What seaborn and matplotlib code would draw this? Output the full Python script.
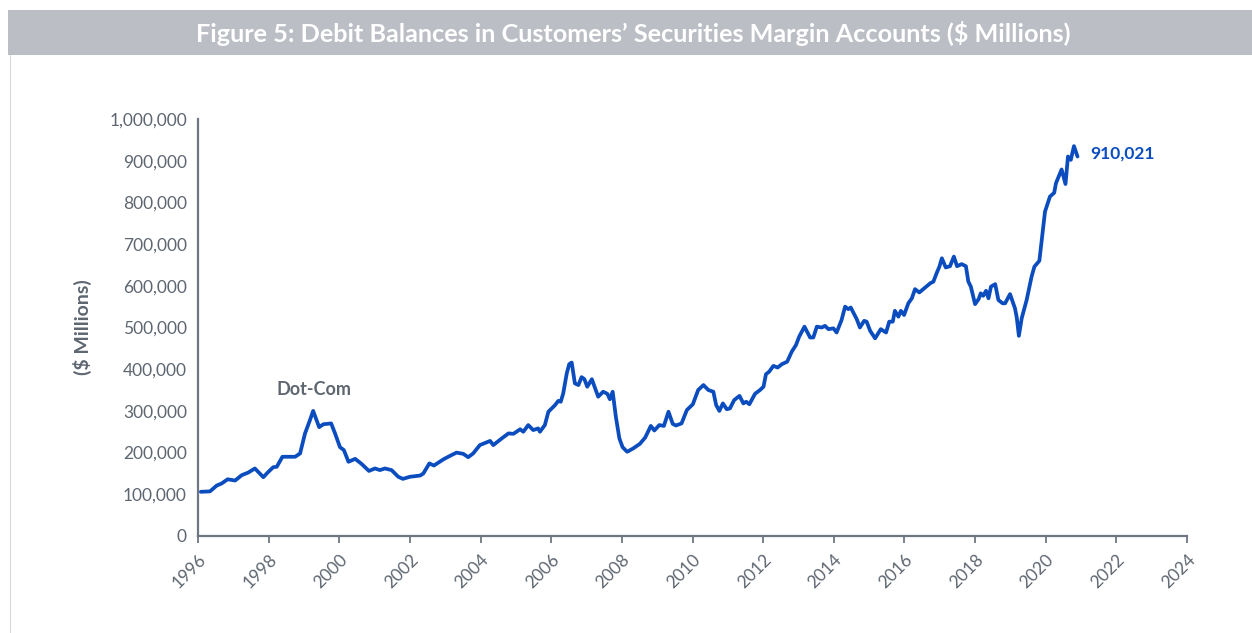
import matplotlib
matplotlib.use("Agg")
import matplotlib.pyplot as plt
import seaborn as sns
import pandas as pd
from matplotlib.patches import Rectangle
from matplotlib.lines import Line2D
from matplotlib.ticker import FuncFormatter

# ---- data ----
years = [1996.08, 1996.34, 1996.53, 1996.67, 1996.84, 1997.05, 1997.24, 1997.42, 1997.61, 1997.85,
         1997.97, 1998.13, 1998.23, 1998.39, 1998.56, 1998.75, 1998.89, 1999.03, 1999.17, 1999.26,
         1999.43, 1999.55, 1999.77, 1999.88, 2000.02, 2000.13, 2000.26, 2000.45, 2000.63, 2000.84,
         2001.01, 2001.15, 2001.29, 2001.48, 2001.67, 2001.80, 2002.00, 2002.29, 2002.38, 2002.55,
         2002.68, 2002.95, 2003.13, 2003.32, 2003.51, 2003.65, 2003.79, 2003.98, 2004.27, 2004.36,
         2004.60, 2004.79, 2004.93, 2005.12, 2005.21, 2005.35, 2005.49, 2005.63, 2005.68, 2005.82,
         2005.92, 2006.11, 2006.20, 2006.27, 2006.34, 2006.44, 2006.51, 2006.58, 2006.67, 2006.77,
         2006.86, 2006.94, 2007.02, 2007.15, 2007.21, 2007.33, 2007.47, 2007.59, 2007.66, 2007.74,
         2007.83, 2007.93, 2008.02, 2008.15, 2008.32, 2008.51, 2008.66, 2008.82, 2008.92, 2009.06,
         2009.19, 2009.32, 2009.44, 2009.53, 2009.69, 2009.84, 2010.01, 2010.16, 2010.31, 2010.45,
         2010.59, 2010.67, 2010.76, 2010.86, 2010.97, 2011.06, 2011.18, 2011.33, 2011.44, 2011.52,
         2011.61, 2011.77, 2011.91, 2012.01, 2012.08, 2012.17, 2012.29, 2012.41, 2012.53, 2012.68,
         2012.81, 2012.93, 2013.02, 2013.17, 2013.33, 2013.42, 2013.52, 2013.66, 2013.75, 2013.85,
         2013.99, 2014.08, 2014.22, 2014.32, 2014.41, 2014.48, 2014.65, 2014.74, 2014.86, 2014.93,
         2015.03, 2015.17, 2015.33, 2015.48, 2015.57, 2015.67, 2015.73, 2015.83, 2015.90, 2015.99,
         2016.11, 2016.21, 2016.30, 2016.42, 2016.56, 2016.73, 2016.82, 2016.91, 2016.99, 2017.06,
         2017.17, 2017.29, 2017.40, 2017.49, 2017.62, 2017.74, 2017.81, 2017.88, 2018.00, 2018.10,
         2018.16, 2018.23, 2018.31, 2018.38, 2018.45, 2018.57, 2018.66, 2018.78, 2018.85, 2018.99,
         2019.13, 2019.18, 2019.24, 2019.32, 2019.46, 2019.60, 2019.68, 2019.82, 2019.98, 2020.12,
         2020.24, 2020.29, 2020.45, 2020.56, 2020.63, 2020.71, 2020.80, 2020.90]

debit_balances = [106000, 107000, 121000, 126000, 136000, 133000, 146000, 152000, 162000, 141000,
                  152000, 165000, 166000, 190000, 190000, 190000, 198000, 246000, 278000, 300000,
                  261000, 268000, 270000, 246000, 213000, 206000, 178000, 185000, 173000, 156000,
                  162000, 158000, 162000, 158000, 142000, 137000, 142000, 145000, 150000, 174000,
                  169000, 184000, 192000, 200000, 197000, 189000, 198000, 218000, 228000, 218000,
                  234000, 246000, 245000, 256000, 250000, 266000, 254000, 258000, 250000, 266000,
                  298000, 314000, 324000, 322000, 342000, 390000, 412000, 416000, 366000, 362000,
                  381000, 376000, 358000, 376000, 362000, 334000, 346000, 341000, 328000, 346000,
                  286000, 234000, 213000, 202000, 210000, 221000, 236000, 264000, 253000, 266000,
                  264000, 298000, 269000, 265000, 270000, 302000, 316000, 350000, 362000, 350000,
                  346000, 314000, 300000, 318000, 304000, 306000, 326000, 336000, 318000, 322000,
                  316000, 341000, 350000, 358000, 388000, 394000, 408000, 404000, 412000, 418000,
                  442000, 458000, 478000, 502000, 476000, 476000, 502000, 500000, 504000, 496000,
                  498000, 488000, 518000, 550000, 544000, 548000, 520000, 500000, 516000, 514000,
                  492000, 474000, 496000, 488000, 514000, 514000, 540000, 526000, 540000, 530000,
                  558000, 570000, 592000, 584000, 594000, 606000, 610000, 630000, 646000, 666000,
                  644000, 647000, 670000, 647000, 652000, 647000, 610000, 598000, 556000, 568000,
                  582000, 576000, 588000, 570000, 598000, 604000, 566000, 558000, 558000, 580000,
                  546000, 524000, 480000, 522000, 566000, 622000, 646000, 660000, 778000, 814000,
                  823000, 846000, 879000, 844000, 910000, 902000, 935000, 910021]

x_ticks = list(range(1996, 2025, 2))
y_ticks = list(range(0, 1000001, 100000))

title_text = "Figure 5: Debit Balances in Customers\u2019 Securities Margin Accounts ($ Millions)"
y_label = "($ Millions)"
event_label = "Dot-Com"
last_label = "910,021"

# ---- style ----
sns.set_theme(style="white")
plt.rcParams["font.family"] = ["Lato", "DejaVu Sans"]

LINE = "#0B4CBE"
GRAY_TXT = "#5E6670"
SPINE = "#6E7781"
BANNER = "#BBBEC5"

df = pd.DataFrame({"year": years, "value": debit_balances})

fig = plt.figure(figsize=(12.52, 6.33), dpi=100)
fig.patch.set_facecolor("white")

# banner
fig.patches.append(Rectangle((8 / 1252, 1 - 55 / 633), 1 - 8 / 1252, 45 / 633,
                             transform=fig.transFigure, facecolor=BANNER, edgecolor="none", zorder=0))
fig.lines.append(Line2D([9.5 / 1252, 9.5 / 1252], [0, 1 - 55 / 633], transform=fig.transFigure,
                        color="#D5D8DD", linewidth=0.8))
fig.text(0.506, 1 - 33 / 633, title_text, ha="center", va="center", color="white",
         fontsize=18.2, fontweight="bold")

ax = fig.add_axes([198 / 1252, 97 / 633, 989 / 1252, 417 / 633])
sns.lineplot(data=df, x="year", y="value", ax=ax, color=LINE, linewidth=2.7)

ax.set_xlim(1996, 2024)
ax.set_ylim(0, 1000000)
ax.set_xticks(x_ticks)
ax.set_yticks(y_ticks)
ax.yaxis.set_major_formatter(FuncFormatter(lambda v, p: f"{int(v):,}"))
ax.set_xticklabels([str(t) for t in x_ticks], rotation=45, ha="right", rotation_mode="anchor")

for s in ["top", "right"]:
    ax.spines[s].set_visible(False)
for s in ["left", "bottom"]:
    ax.spines[s].set_color(SPINE)
    ax.spines[s].set_linewidth(1.6)

ax.tick_params(axis="x", which="major", bottom=True, length=5, width=1.3, color=SPINE,
               labelcolor=GRAY_TXT, labelsize=12.5, pad=6)
ax.tick_params(axis="y", which="major", left=False, labelcolor=GRAY_TXT, labelsize=12.5, pad=2)

ax.set_xlabel("")
ax.set_ylabel(y_label, color=GRAY_TXT, fontsize=14, fontweight="bold", labelpad=12)
ax.grid(False)

ax.text(1999.27, 352000, event_label, ha="center", va="center", color=GRAY_TXT,
        fontsize=13, fontweight="bold")
ax.text(2021.25, 918000, last_label, ha="left", va="center", color=LINE,
        fontsize=12.5, fontweight="bold")

fig.savefig("out.png", dpi=100, facecolor="white")
